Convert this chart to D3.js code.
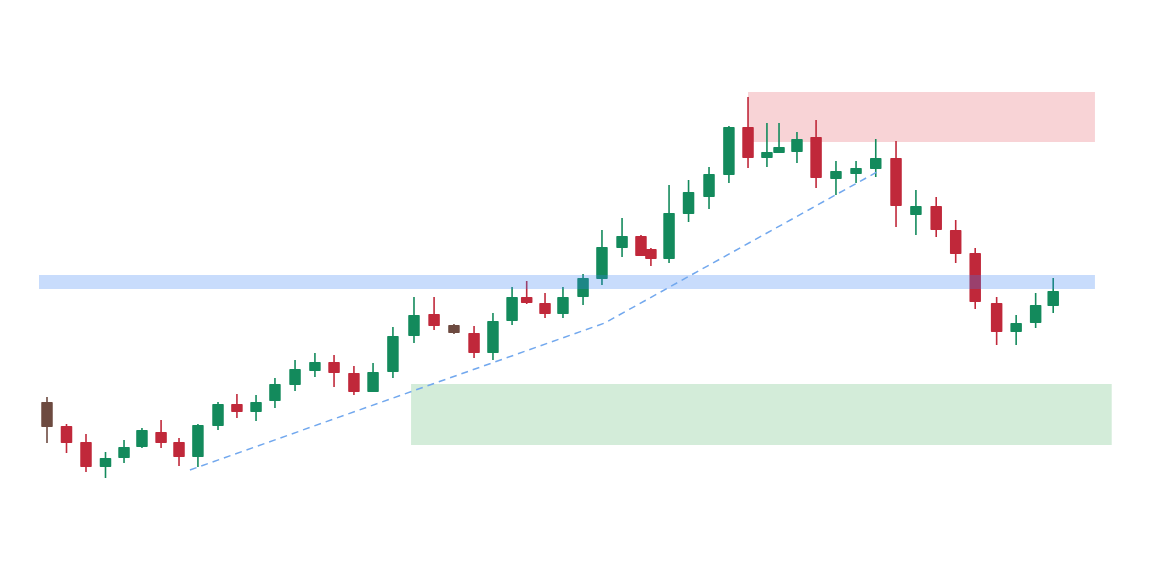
<!DOCTYPE html>
<html>
<head>
<meta charset="utf-8">
<script src="https://cdn.jsdelivr.net/npm/d3@7"></script>
<style>
  html, body { margin: 0; padding: 0; background: #ffffff; }
  svg { display: block; }
</style>
</head>
<body>
<svg id="chart" width="1152" height="576"></svg>
<script>
// ---- data (session time, OHLC) ----
const sessions = [0, 1, 2, 3, 3.95, 4.87, 5.85, 6.77, 7.74, 8.77, 9.74, 10.72, 11.69, 12.72, 13.74, 14.72, 15.74, 16.72, 17.74, 18.82, 19.85, 20.87, 21.9, 22.87, 23.85, 24.6, 25.54, 26.46, 27.49, 28.46, 29.49, 30.46, 30.97, 31.9, 32.9, 33.95, 34.97, 35.95, 36.92, 37.54, 38.46, 39.44, 40.46, 41.49, 42.5, 43.54, 44.56, 45.6, 46.6, 47.6, 48.7, 49.7, 50.7, 51.6];
const opens  = [49.5, 43.5, 39.5, 33.25, 35.5, 38.25, 42, 39.5, 35.75, 43.5, 49, 47, 49.75, 53.75, 57.25, 59.5, 56.75, 52, 57, 66, 71.5, 68.75, 66.75, 61.75, 69.75, 75.75, 74.25, 71.5, 75.75, 80.25, 88, 91, 87.75, 85.25, 96.5, 100.75, 106.25, 118.25, 110.5, 111.75, 112, 115.75, 105.25, 106.5, 107.75, 110.5, 96.25, 98.5, 92.5, 86.75, 74.25, 67, 69.25, 73.5];
const highs  = [50.75, 44, 41.5, 37, 40, 43, 45, 40.5, 44, 49.5, 51.5, 51.25, 55.5, 60, 61.75, 61.25, 58.5, 59.25, 68.25, 75.75, 75.75, 69, 68.5, 71.75, 78.25, 79.75, 76.75, 78.25, 81.5, 92.5, 95.5, 91.25, 88, 103.75, 105, 108.25, 118.5, 125.75, 119.25, 119.25, 117, 120, 109.75, 109.75, 115.25, 114.75, 102.5, 100.75, 95, 88, 75.75, 71.25, 76.75, 80.5];
const lows   = [39.25, 36.75, 32, 30.5, 34.25, 38, 38, 33.5, 33.25, 42.5, 45.5, 44.75, 48, 52.25, 55.75, 53.25, 51.25, 52, 55.5, 64.25, 67.5, 66.5, 60.5, 60, 68.75, 74, 70.5, 70.5, 73.75, 78.75, 85.75, 86, 83.5, 84.25, 94.5, 97.75, 104.25, 108, 108.25, 111.75, 109.25, 103, 101.25, 104.25, 105.75, 93.25, 91.25, 90.75, 84.25, 72.75, 63.75, 63.75, 68, 71.75];
const closes = [43.25, 39.25, 33.25, 35.5, 38.25, 42.5, 39.25, 35.75, 43.75, 49, 47, 49.5, 54, 57.75, 59.5, 56.75, 52, 57, 66, 71.25, 68.5, 66.75, 61.75, 69.75, 75.75, 74.25, 71.5, 75.75, 80.5, 88.25, 91, 86, 85.25, 96.75, 102, 106.5, 118.25, 110.5, 112, 113.25, 115.25, 105.5, 107.25, 108, 110.5, 98.5, 98.5, 92.5, 86.5, 74.5, 67, 69.25, 73.75, 77.25];
const neutralIdx = [0, 21];   // brown-coloured candles

// zones: [t0, t1, priceLow, priceHigh]
const resistanceZone = [35.95, 53.74, 114.5, 127];
const supportZone    = [18.67, 54.6, 38.75, 54];
const levelBand      = [-0.41, 53.74, 77.75, 81.25];
// dashed trendline points (session, price)
const trendT = [7.33, 28.6, 42.56];
const trendP = [32.5, 69.25, 107];

// ---- drawing ----
const svg = d3.select("#chart");
const x = d3.scaleLinear().domain([-2, 56]).range([8, 1139]);
const y = d3.scaleLinear().domain([25, 130]).range([500, 80]);

const bodyW = 11.5;
const colUp = "#138a5c", colDown = "#c0283a", colNeutral = "#6d4a40";

function zoneRect(z, fill, opacity) {
  svg.append("rect")
    .attr("x", x(z[0])).attr("width", x(z[1]) - x(z[0]))
    .attr("y", y(z[3])).attr("height", y(z[2]) - y(z[3]))
    .attr("fill", fill).attr("fill-opacity", opacity);
}

zoneRect(resistanceZone, "#f8d3d6", 1);
zoneRect(supportZone, "#d3ecd9", 1);

const candles = sessions.map((t, i) => ({
  t, o: opens[i], h: highs[i], l: lows[i], c: closes[i],
  col: neutralIdx.includes(i) ? colNeutral : (closes[i] >= opens[i] ? colUp : colDown)
}));

const g = svg.append("g");
g.selectAll("line.wick").data(candles).join("line")
  .attr("class", "wick")
  .attr("x1", d => x(d.t)).attr("x2", d => x(d.t))
  .attr("y1", d => y(d.h)).attr("y2", d => y(d.l))
  .attr("stroke", d => d.col).attr("stroke-width", 1.6);

g.selectAll("rect.body").data(candles).join("rect")
  .attr("class", "body")
  .attr("x", d => x(d.t) - bodyW / 2).attr("width", bodyW)
  .attr("y", d => y(Math.max(d.o, d.c)))
  .attr("height", d => Math.max(1.5, Math.abs(y(d.o) - y(d.c))))
  .attr("fill", d => d.col)
  .attr("rx", 0.8);

zoneRect(levelBand, "#3b82f6", 0.28);

const line = d3.line().x(d => x(d[0])).y(d => y(d[1]));
svg.append("path")
  .datum(trendT.map((t, i) => [t, trendP[i]]))
  .attr("d", line)
  .attr("fill", "none")
  .attr("stroke", "#72a8ee")
  .attr("stroke-width", 1.5)
  .attr("stroke-dasharray", "7,5");
</script>
</body>
</html>
